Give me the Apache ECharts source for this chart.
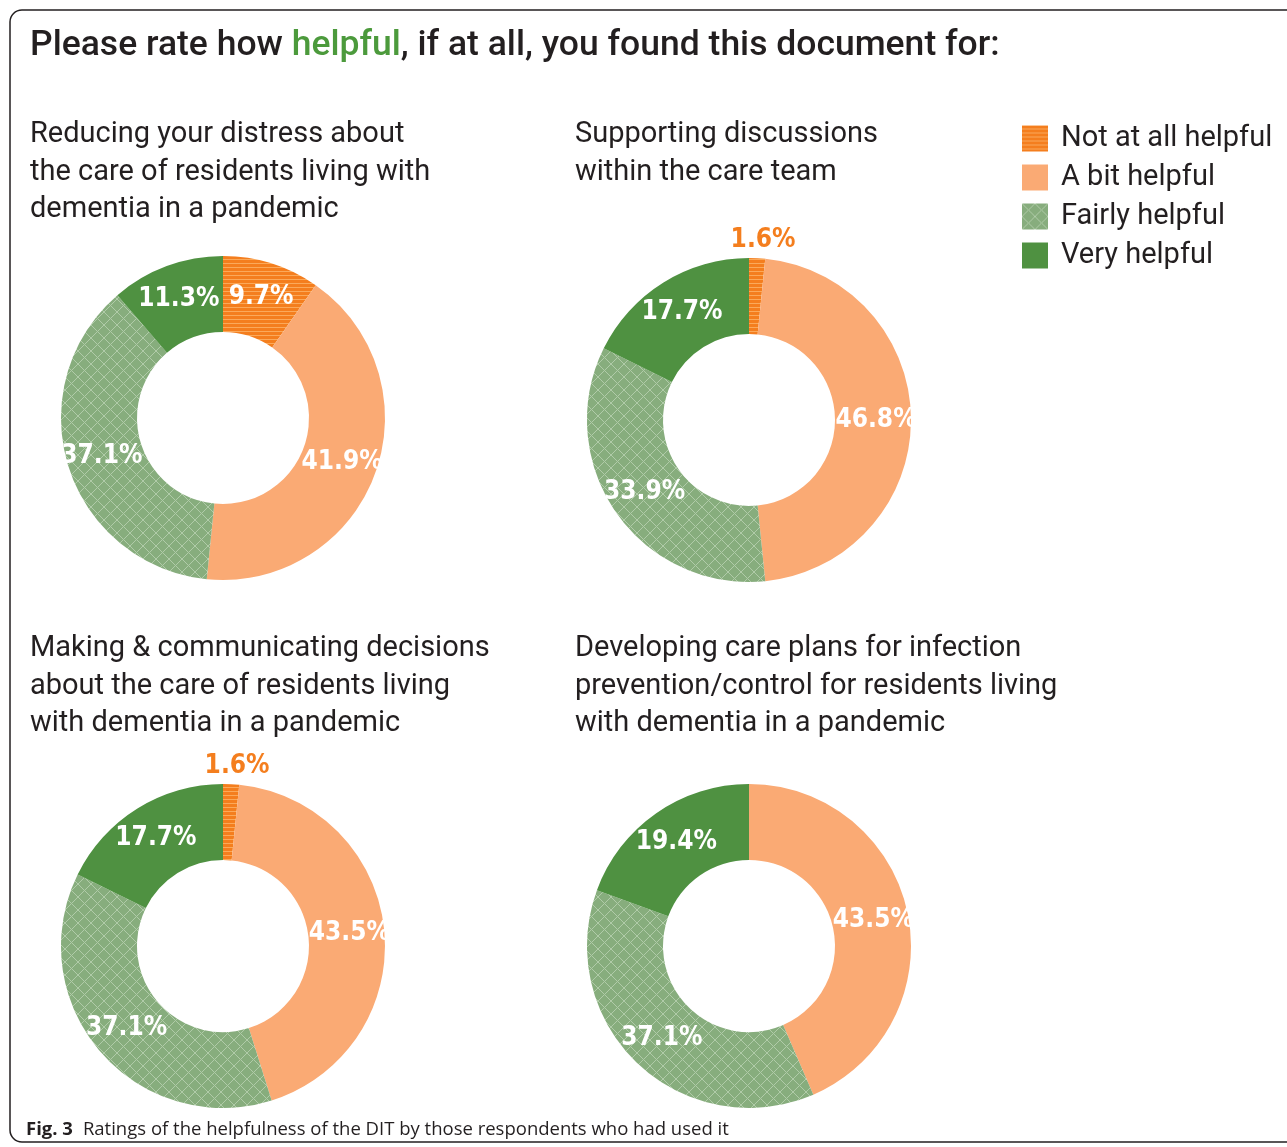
<!DOCTYPE html>
<html><head><meta charset="utf-8">
<script src="https://cdn.jsdelivr.net/npm/echarts@6/dist/echarts.min.js"></script>
<style>html,body{margin:0;padding:0;background:#fff}#c{width:1287px;height:1147px}</style>
</head><body><div id="c"></div>
<script>
const categories = ['Not at all helpful', 'A bit helpful', 'Fairly helpful', 'Very helpful'];
const panelTitles = [
  'Reducing your distress about\nthe care of residents living with\ndementia in a pandemic',
  'Supporting discussions\nwithin the care team',
  'Making & communicating decisions\nabout the care of residents living\nwith dementia in a pandemic',
  'Developing care plans for infection\nprevention/control for residents living\nwith dementia in a pandemic'
];
const panel1 = [9.7, 41.9, 37.1, 11.3];
const panel2 = [1.6, 46.8, 33.9, 17.7];
const panel3 = [1.6, 43.5, 37.1, 17.7];
const panel4 = [0, 43.5, 37.1, 19.4];
const panels = [panel1, panel2, panel3, panel4];

function stripes() {
  const c = document.createElement('canvas'); c.width = 8; c.height = 4;
  const g = c.getContext('2d');
  g.fillStyle = '#F47E1E'; g.fillRect(0, 0, 8, 4);
  g.fillStyle = '#FBA95A'; g.fillRect(0, 3, 8, 1);
  return { image: c, repeat: 'repeat' };
}
function hatch() {
  const s = 13;
  const c = document.createElement('canvas'); c.width = s; c.height = s;
  const g = c.getContext('2d');
  g.fillStyle = '#87AD7D'; g.fillRect(0, 0, s, s);
  g.strokeStyle = '#B0CBA8'; g.lineWidth = 1;
  g.beginPath();
  g.moveTo(0, 0); g.lineTo(s, s);
  g.moveTo(s, 0); g.lineTo(0, s);
  g.stroke();
  return { image: c, repeat: 'repeat' };
}
const colors = [stripes(), '#FAAA74', hatch(), '#4F9141'];

const centers = [[223, 418], [749, 420], [223, 946], [749, 946]];
const titlePos = [[30, 116], [575, 116], [30, 630], [575, 630]];
const txtFont = 'Roboto, "Noto Sans", sans-serif';
const numFont = '"DejaVu Sans Condensed", sans-serif';

const series = panels.map((vals, p) => ({
  type: 'pie',
  center: centers[p],
  radius: [86, 162],
  startAngle: 90,
  clockwise: true,
  silent: true,
  avoidLabelOverlap: false,
  label: {
    show: true, position: 'inside', color: '#fff',
    fontFamily: numFont, fontWeight: 'bold', fontSize: 26,
    formatter: (d) => d.value + '%'
  },
  labelLine: { show: false },
  labelLayout: (prm) => (vals[prm.dataIndex] > 0 && vals[prm.dataIndex] < 3) ? { align: 'center' } : {},
  data: vals.map((v, i) => {
    const item = { name: categories[i], value: v, itemStyle: { color: colors[i] } };
    if (v === 0) item.label = { show: false };
    else if (v < 3) {
      item.label = { show: true, position: 'outside', color: '#F47E1E' };
      item.labelLine = { show: false, length: 18, length2: 0 };
    }
    return item;
  })
}));

const titles = [{
  left: 30, top: 28, padding: 0,
  text: '{a|Please rate how }{g|helpful}{a|, if at all, you found this document for:}',
  textStyle: {
    rich: {
      a: { fontFamily: txtFont, fontSize: 35.5, color: '#231F20', fontWeight: 500 },
      g: { fontFamily: txtFont, fontSize: 35.5, color: '#4C9A3C', fontWeight: 500 }
    }
  }
}];
panelTitles.forEach((t, i) => titles.push({
  left: titlePos[i][0], top: titlePos[i][1], text: t, padding: 0,
  textStyle: { fontFamily: txtFont, fontSize: 29, fontWeight: 400, color: '#231F20', lineHeight: 37.5 }
}));
titles.push({
  left: 26, top: 1120, padding: 0,
  text: '{b|Fig. 3}  {r|Ratings of the helpfulness of the DIT by those respondents who had used it}',
  textStyle: {
    rich: {
      b: { fontFamily: '"Open Sans", sans-serif', fontWeight: 'bold', fontSize: 18.5, color: '#231F20' },
      r: { fontFamily: '"Open Sans", sans-serif', fontWeight: 'normal', fontSize: 18.5, color: '#231F20' }
    }
  }
});

const chart = echarts.init(document.getElementById('c'), null, { renderer: 'canvas' });
chart.setOption({
  animation: false,
  backgroundColor: '#fff',
  title: titles,
  legend: {
    orient: 'vertical', left: 1022, top: 124, padding: 0,
    itemWidth: 26, itemHeight: 26, itemGap: 10,
    icon: 'rect',
    data: categories,
    selectedMode: false,
    textStyle: { fontFamily: txtFont, fontSize: 29, color: '#231F20', padding: [0, 0, 0, 8] }
  },
  graphic: [{
    type: 'rect', shape: { x: 10, y: 10, width: 1300, height: 1132, r: 12 },
    style: { fill: null, stroke: '#231F20', lineWidth: 1.5 }, silent: true, z: -10
  }],
  series: series
});
</script></body></html>
